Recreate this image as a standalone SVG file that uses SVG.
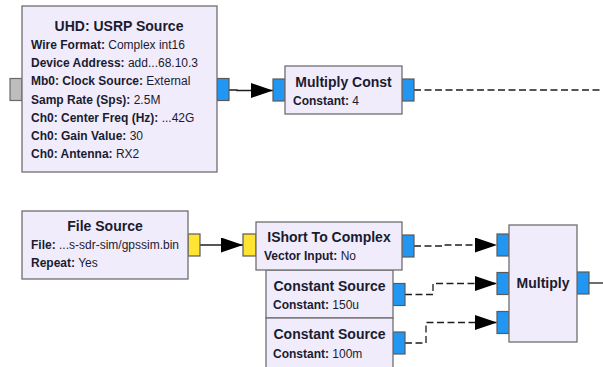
<svg xmlns="http://www.w3.org/2000/svg" width="603" height="367" viewBox="0 0 603 367">
  <style>
    .blk { fill: #F0ECFC; stroke: #6F6F6F; stroke-width: 1.3; }
    .pc { fill: #2196F3; stroke: #5A5A5A; stroke-width: 1.2; }
    .ps { fill: #FFE433; stroke: #5A5A5A; stroke-width: 1.2; }
    .pg { fill: #BDBDBD; stroke: #6A6A6A; stroke-width: 1.2; }
    text { font-family: "Liberation Sans", Arial, sans-serif; fill: #1B1B2F; }
    .t { font-size: 14px; font-weight: bold; text-anchor: middle; }
    .p { font-size: 12px; }
    .k { font-weight: bold; }
    .w { fill: none; stroke: #1E1E1E; stroke-width: 1.3; }
    .d { stroke-dasharray: 7 3.5; }
  </style>
  <defs>
    <marker id="arrow" markerUnits="userSpaceOnUse" markerWidth="24" markerHeight="16" refX="22" refY="7.5" orient="auto">
      <path d="M0,0 L22,7.5 L0,15 Z" fill="#000"/>
    </marker>
  </defs>
  <rect width="603" height="367" fill="#FFFFFF"/>

  <!-- connections -->
  <g id="connectors">
    <path class="w" d="M229,90 H237 V90.5 H273" marker-end="url(#arrow)"/>
    <path class="w d" d="M414,90 H603"/>
    <path class="w" d="M200,245 H243" marker-end="url(#arrow)"/>
    <path class="w d" d="M414,246 H443 V245 H497" marker-end="url(#arrow)"/>
    <path class="w d" d="M405,294.5 H433 V283.5 H497" marker-end="url(#arrow)"/>
    <path class="w d" d="M405,343 H426 V322.5 H497" marker-end="url(#arrow)"/>
    <path class="w" d="M589,283 H603"/>
  </g>

  <!-- UHD: USRP Source -->
  <g id="usrp_source">
    <rect class="pg" x="10" y="78.5" width="12" height="22"/>
    <rect class="pc" x="217" y="78.5" width="12" height="22"/>
    <rect class="blk" x="22" y="6" width="195" height="166"/>
    <text class="t" x="119" y="31">UHD: USRP Source</text>
    <text class="p" x="31" y="49"><tspan class="k">Wire Format:</tspan> Complex int16</text>
    <text class="p" x="31" y="67.2"><tspan class="k">Device Address:</tspan> add...68.10.3</text>
    <text class="p" x="31" y="85.4"><tspan class="k">Mb0: Clock Source:</tspan> External</text>
    <text class="p" x="31" y="103.6"><tspan class="k">Samp Rate (Sps):</tspan> 2.5M</text>
    <text class="p" x="31" y="121.8"><tspan class="k">Ch0: Center Freq (Hz):</tspan> ...42G</text>
    <text class="p" x="31" y="140"><tspan class="k">Ch0: Gain Value:</tspan> 30</text>
    <text class="p" x="31" y="158.2"><tspan class="k">Ch0: Antenna:</tspan> RX2</text>
  </g>

  <!-- Multiply Const -->
  <g id="multiply_const">
    <rect class="pc" x="273" y="79" width="12" height="22"/>
    <rect class="pc" x="402" y="79" width="12" height="22"/>
    <rect class="blk" x="285" y="66" width="117" height="48"/>
    <text class="t" x="343.5" y="87">Multiply Const</text>
    <text class="p" x="293" y="105"><tspan class="k">Constant:</tspan> 4</text>
  </g>

  <!-- File Source -->
  <g id="file_source">
    <rect class="ps" x="188" y="234" width="12" height="22"/>
    <rect class="blk" x="22" y="211" width="166" height="68"/>
    <text class="t" x="105" y="231">File Source</text>
    <text class="p" x="31" y="249"><tspan class="k">File:</tspan> ...s-sdr-sim/gpssim.bin</text>
    <text class="p" x="31" y="267"><tspan class="k">Repeat:</tspan> Yes</text>
  </g>

  <!-- Constant Source (150u) -->
  <g id="const_source_0">
    <rect class="pc" x="393" y="283.5" width="12" height="22"/>
    <rect class="blk" x="266" y="270" width="127" height="48"/>
    <text class="t" x="329.5" y="291">Constant Source</text>
    <text class="p" x="273" y="309"><tspan class="k">Constant:</tspan> 150u</text>
  </g>

  <!-- Constant Source (100m) -->
  <g id="const_source_1">
    <rect class="pc" x="393" y="332" width="12" height="22"/>
    <rect class="blk" x="266" y="318" width="127" height="54"/>
    <text class="t" x="329.5" y="339">Constant Source</text>
    <text class="p" x="273" y="358"><tspan class="k">Constant:</tspan> 100m</text>
  </g>

  <!-- IShort To Complex -->
  <g id="ishort_to_complex">
    <rect class="ps" x="243" y="234" width="13" height="22"/>
    <rect class="pc" x="402" y="235" width="12" height="22"/>
    <rect class="blk" x="256" y="222" width="146" height="48"/>
    <text class="t" x="329" y="242">IShort To Complex</text>
    <text class="p" x="264" y="260"><tspan class="k">Vector Input:</tspan> No</text>
  </g>

  <!-- Multiply -->
  <g id="multiply">
    <rect class="pc" x="497" y="234" width="12" height="22"/>
    <rect class="pc" x="497" y="272.5" width="12" height="22"/>
    <rect class="pc" x="497" y="311.5" width="12" height="22"/>
    <rect class="pc" x="577" y="272" width="12" height="22"/>
    <rect class="blk" x="509" y="225" width="68" height="117"/>
    <text class="t" x="543" y="288">Multiply</text>
  </g>
</svg>
